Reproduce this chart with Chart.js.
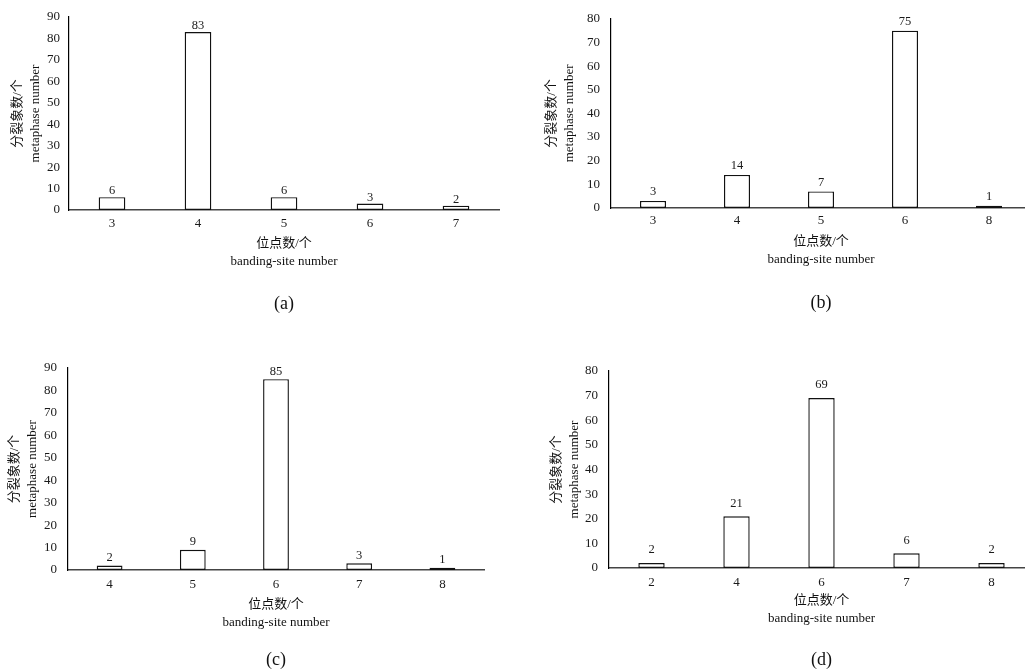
<!DOCTYPE html>
<html lang="zh">

<head>
    <meta charset="UTF-8">
    <title>banding-site number</title>
    <style>
        html, body { margin: 0; padding: 0; background: #fff; overflow: hidden; width: 1025px; height: 672px; }
        .panel { position: absolute; }
    </style>
</head>

<body>
    <script src="https://cdn.jsdelivr.net/npm/chart.js"></script>

    <canvas id="chartA" class="panel" width="512" height="320" style="left:0px; top:0px"></canvas>
    <canvas id="chartB" class="panel" width="520" height="320" style="left:512px; top:0px"></canvas>
    <canvas id="chartC" class="panel" width="512" height="332" style="left:0px; top:340px"></canvas>
    <canvas id="chartD" class="panel" width="525" height="332" style="left:512px; top:340px"></canvas>

    <script>
        // data
        var catsA = ['3', '4', '5', '6', '7'];
        var valsA = [6, 83, 6, 3, 2];

        var catsB = ['3', '4', '5', '6', '8'];
        var valsB = [3, 14, 7, 75, 1];

        var catsC = ['4', '5', '6', '7', '8'];
        var valsC = [2, 9, 85, 3, 1];

        var catsD = ['2', '4', '6', '7', '8'];
        var valsD = [2, 21, 69, 6, 2];

        var yTitle = ['分裂象数/个', 'metaphase number'];
        var xTitle = ['位点数/个', 'banding-site number'];

        var FONT = "'Liberation Serif', 'Times New Roman', 'Noto Sans CJK SC', serif";

        // numbers above the bars
        var valueLabels = {
            id: 'valueLabels',
            afterDatasetsDraw: function (chart, args, opts) {
                var ctx = chart.ctx;
                var meta = chart.getDatasetMeta(0);
                var data = chart.data.datasets[0].data;
                ctx.save();
                ctx.font = '12.5px ' + FONT;
                ctx.fillStyle = '#1a1a1a';
                ctx.textAlign = 'center';
                ctx.textBaseline = 'middle';
                meta.data.forEach(function (bar, i) {
                    ctx.fillText(data[i], bar.x, bar.y - opts.offset);
                });
                ctx.restore();
            }
        };

        function makeChart(id, cats, vals, yMax, letter, g) {
            var ctx = document.getElementById(id).getContext('2d');
            return new Chart(ctx, {
                type: 'bar',
                data: {
                    labels: cats,
                    datasets: [{
                        data: vals,
                        backgroundColor: '#ffffff',
                        borderColor: '#111111',
                        borderWidth: 1.4,
                        borderSkipped: false,
                        barPercentage: 0.31,
                        categoryPercentage: 1
                    }]
                },
                options: {
                    responsive: false,
                    animation: false,
                    layout: {
                        padding: { left: 0, top: g.top, right: g.right, bottom: g.bottom }
                    },
                    plugins: {
                        legend: { display: false },
                        tooltip: { enabled: false },
                        title: {
                            display: true,
                            text: letter,
                            position: 'bottom',
                            fullSize: false,
                            color: '#111',
                            font: { family: FONT, size: 18, weight: 'normal', lineHeight: '20px' },
                            padding: 0
                        },
                        valueLabels: { offset: g.offset }
                    },
                    scales: {
                        x: {
                            grid: { display: false, drawTicks: false },
                            border: { display: true, color: '#444', width: 1.5 },
                            ticks: { color: '#1a1a1a', padding: g.xPad, font: { family: FONT, size: 13 } },
                            title: {
                                display: true,
                                text: xTitle,
                                color: '#111',
                                font: { family: FONT, size: 13, lineHeight: '18px' },
                                padding: { top: 0, bottom: g.xTitleBottom }
                            },
                            afterFit: function (scale) { scale.height = g.xH; }
                        },
                        y: {
                            min: 0,
                            max: yMax,
                            grid: { display: false, drawTicks: false },
                            border: { display: true, color: '#000', width: 1.2 },
                            ticks: { stepSize: 10, color: '#1a1a1a', padding: g.yPad, font: { family: FONT, size: 13 } },
                            title: {
                                display: true,
                                text: yTitle,
                                color: '#111',
                                font: { family: FONT, size: 13, lineHeight: '18px' },
                                padding: { top: g.yTitleTop, bottom: 0 }
                            },
                            afterFit: function (scale) { scale.width = g.yW; }
                        }
                    }
                },
                plugins: [valueLabels]
            });
        }

        makeChart('chartA', catsA, valsA, 90, '(a)',
            { top: 17, right: 13, bottom: 6, yW: 69, xH: 84, xPad: 6, xTitleBottom: 23, yPad: 9, yTitleTop: 9, offset: 6 });
        makeChart('chartB', catsB, valsB, 80, '(b)',
            { top: 13, right: 1, bottom: 7, yW: 99, xH: 85, xPad: 5, xTitleBottom: 24, yPad: 11, yTitleTop: 31, offset: 9 });
        makeChart('chartC', catsC, valsC, 90, '(c)',
            { top: 28, right: 28, bottom: 2, yW: 68, xH: 80, xPad: 7, xTitleBottom: 18, yPad: 11, yTitleTop: 6, offset: 8 });
        makeChart('chartD', catsD, valsD, 80, '(d)',
            { top: 31, right: 3, bottom: 2, yW: 97, xH: 82, xPad: 7, xTitleBottom: 22, yPad: 11, yTitleTop: 36, offset: 13 });
    </script>
</body>

</html>
